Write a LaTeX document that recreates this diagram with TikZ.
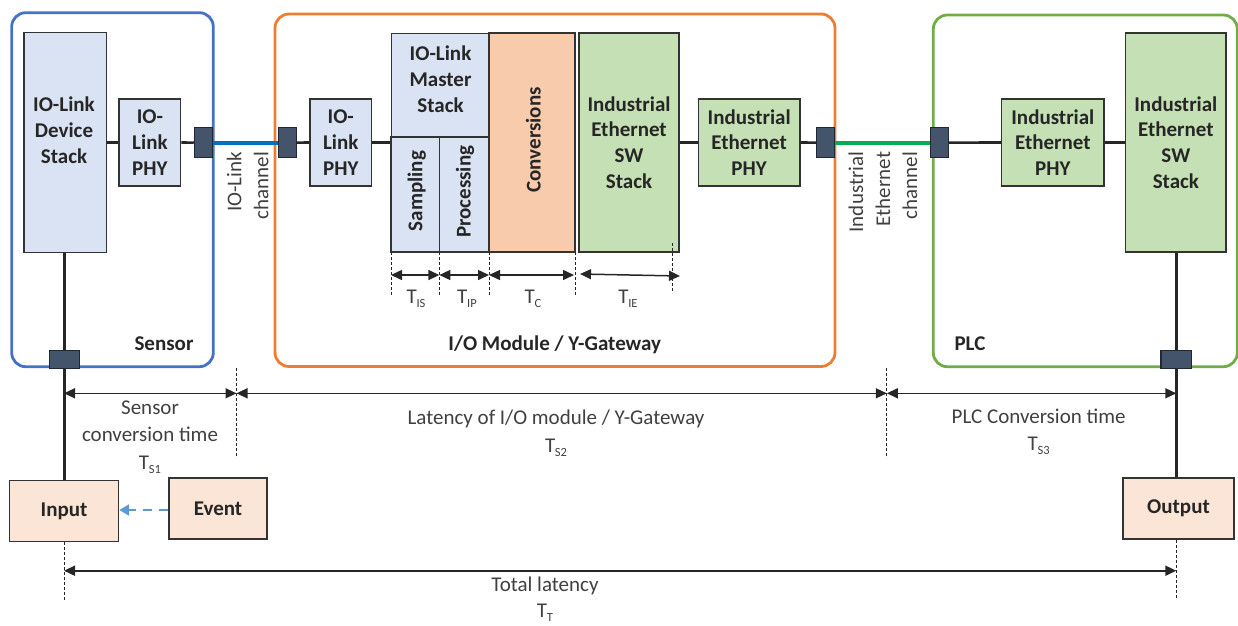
\documentclass[tikz,border=0pt]{standalone}
\usepackage{fontspec}
\setmainfont{Carlito}
\usetikzlibrary{arrows.meta}

\definecolor{stackblue}{HTML}{DAE3F3}
\definecolor{convpeach}{HTML}{F8CBAD}
\definecolor{ethgreen}{HTML}{C5E0B4}
\definecolor{iopeach}{HTML}{FBE5D6}
\definecolor{portgray}{HTML}{44546A}
\definecolor{portedge}{HTML}{1F2833}
\definecolor{sensorblue}{HTML}{4472C4}
\definecolor{moduleorange}{HTML}{ED7D31}
\definecolor{plcgreen}{HTML}{70AD47}
\definecolor{iolinkblue}{HTML}{0070C0}
\definecolor{ethline}{HTML}{00B050}
\definecolor{eventblue}{HTML}{5B9BD5}
\definecolor{ink}{HTML}{262626}
\definecolor{edge}{HTML}{333333}
\definecolor{dimink}{HTML}{404040}

\newcommand\blockfont{\fontsize{21}{25.8}\selectfont\bfseries}
\newcommand\plainfont{\fontsize{21}{27.5}\selectfont}
\newcommand\tsub[1]{T\kern-0.3pt\raisebox{-0.4ex}{\fontsize{12.5}{12.5}\selectfont #1}}

\begin{document}
\begin{tikzpicture}[x=1pt,y=-1pt,
  block/.style={draw=edge, line width=1.4pt, inner sep=0pt, font=\blockfont, text=ink, align=center},
  boxtext/.style={inner sep=0pt, font=\blockfont, text=ink, align=center},
  port/.style={draw=portedge, fill=portgray, line width=1.1pt, inner sep=0pt, minimum width=18pt, minimum height=29.5pt},
  bport/.style={port, minimum width=30.7pt, minimum height=18.3pt},
  enclosure/.style={rounded corners=14pt, line width=2.8pt, inner sep=0pt},
  wire/.style={line width=2.6pt, draw=ink},
  dimarrow/.style={line width=1.5pt, draw=ink, {Triangle[length=11pt,width=10pt]}-{Triangle[length=11pt,width=10pt]}},
  guide/.style={line width=0.8pt, draw=ink, dash pattern=on 3pt off 2pt},
  timelbl/.style={inner sep=0pt, font=\plainfont, text=dimink, align=center},
  sublbl/.style={inner sep=0pt, font=\fontsize{21}{25}\selectfont, text=dimink},
  chanlbl/.style={inner sep=0pt, font=\fontsize{21}{27}\selectfont, text=dimink, align=right, rotate=90, anchor=north east},
  arealbl/.style={inner sep=0pt, font=\blockfont, text=ink, anchor=base}
]
\useasboundingbox (0,0) rectangle (1238,625);

% enclosures
\node[enclosure, draw=sensorblue, minimum width=201.6pt, minimum height=354pt] (sensor) at (112.5,189.7) {};
\node[enclosure, draw=moduleorange, minimum width=560pt, minimum height=352.5pt] (module) at (555,190.25) {};
\node[enclosure, draw=plcgreen, minimum width=304pt, minimum height=351.7pt] (plc) at (1085.3,190.85) {};

\node[arealbl] (sensorlbl) at (164,350) {Sensor};
\node[arealbl] (modulelbl) at (554.7,350) {I/O Module / Y-Gateway};
\node[arealbl] (plclbl) at (970,350) {PLC};

% sensor blocks
\node[block, fill=stackblue, minimum width=82.7pt, minimum height=219.5pt] (devstack) at (65.3,142.5) {};
\node[boxtext] (devstacktxt) at (64,130.5) {IO-Link\\Device\\Stack};
\node[block, fill=stackblue, minimum width=61.7pt, minimum height=87pt] (phyS) at (149.9,142.5) {IO-\\Link\\PHY};

% module blocks
\node[block, fill=stackblue, minimum width=61.7pt, minimum height=87pt] (phyM) at (340.8,142.5) {IO-\\Link\\PHY};
\node[block, fill=stackblue, minimum width=97.5pt, minimum height=103.7pt] (master) at (440.25,85.15) {};
\node[boxtext] (mastertxt) at (440.5,79) {IO-Link\\Master\\Stack};
\node[block, fill=stackblue, minimum width=48.3pt, minimum height=115pt] (sampling) at (415.15,194.5) {};
\node[block, fill=stackblue, minimum width=49.7pt, minimum height=115pt] (processing) at (464.15,194.5) {};
\node[boxtext, rotate=90] (samplingtxt) at (416.7,191) {Sampling};
\node[boxtext, rotate=90] (processingtxt) at (465,191.7) {Processing};
\node[block, fill=convpeach, minimum width=86pt, minimum height=219pt] (conv) at (532,142.5) {};
\node[boxtext, rotate=90] (convtxt) at (533.3,140) {Conversions};
\node[block, fill=ethgreen, minimum width=100pt, minimum height=219pt] (swM) at (629,142.5) {Industrial\\Ethernet\\SW\\Stack};
\node[block, fill=ethgreen, minimum width=101.7pt, minimum height=87pt] (iephyM) at (749.15,142.5) {Industrial\\Ethernet\\PHY};

% PLC blocks
\node[block, fill=ethgreen, minimum width=102.3pt, minimum height=87pt] (iephyP) at (1052.85,142.5) {Industrial\\Ethernet\\PHY};
\node[block, fill=ethgreen, minimum width=100.3pt, minimum height=219pt] (swP) at (1175.85,142.5) {Industrial\\Ethernet\\SW\\Stack};

% input / event / output
\node[block, fill=iopeach, minimum width=109pt, minimum height=61pt] (input) at (64,511.2) {Input};
\node[block, fill=iopeach, minimum width=98pt, minimum height=61pt] (event) at (218,508.5) {Event};
\node[block, fill=iopeach, minimum width=111pt, minimum height=61pt] (output) at (1178.5,508.5) {Output};

% ports
\node[port] (portS) at (203.3,142.6) {};
\node[port] (portMl) at (287.2,142.6) {};
\node[port] (portMr) at (825.8,142.6) {};
\node[port] (portPl) at (939.3,142.6) {};
\node[bport] (portSb) at (64.5,359.2) {};
\node[bport] (portPb) at (1176.3,359.2) {};

% channels between devices
\draw[line width=4pt, draw=iolinkblue] (portS.east) -- (portMl.west);
\draw[line width=4pt, draw=ethline] (portMr.east) -- (portPl.west);
\node[chanlbl] (iolinkchan) at (226.7,151.7) {IO-Link\\channel};
\node[chanlbl] (iechan) at (848.3,151.7) {Industrial\\Ethernet\\channel};

% internal wiring
\draw[wire] (devstack.east |- phyS) -- (phyS.west);
\draw[wire] (phyS.east) -- (portS.west);
\draw[wire] (portMl.east) -- (phyM.west);
\draw[wire] (phyM.east) -- (sampling.west |- phyM);
\draw[wire] (swM.east |- iephyM) -- (iephyM.west);
\draw[wire] (iephyM.east) -- (portMr.west);
\draw[wire] (portPl.east) -- (iephyP.west);
\draw[wire] (iephyP.east) -- (swP.west |- iephyP);
\draw[wire] (portSb.north |- devstack.south) -- (portSb.north);
\draw[wire] (portSb.south) -- (portSb.south |- input.north);
\draw[wire] (portPb.north |- swP.south) -- (portPb.north);
\draw[wire] (portPb.south) -- (portPb.south |- output.north);
\draw[line width=2.6pt, draw=eventblue, dash pattern=on 9pt off 7pt, -{Triangle[length=10pt,width=11pt]}] (event.west |- 0,510) -- (input.east |- 0,510);

% timing inside the gateway
\coordinate (g1a) at (391,252); \coordinate (g1b) at (391,295);
\coordinate (g2a) at (439.3,252); \coordinate (g2b) at (439.3,295);
\coordinate (g3a) at (489,252); \coordinate (g3b) at (489,295);
\coordinate (g4a) at (575,252); \coordinate (g4b) at (575,295);
\coordinate (g5a) at (672,243); \coordinate (g5b) at (672,293);
\foreach \g in {1,...,5} { \draw[guide] (g\g a) -- (g\g b); }
\draw[dimarrow] (391,275) -- (439.3,275);
\draw[dimarrow] (439.3,275) -- (489,275);
\draw[dimarrow] (489,275) -- (574,275);
\draw[dimarrow] (580,274) -- (680,276);
\node[sublbl] (tis) at (416,299) {\tsub{IS}};
\node[sublbl] (tip) at (467,299) {\tsub{IP}};
\node[sublbl] (tc) at (533,299) {\tsub{C}};
\node[sublbl] (tie) at (628,299) {\tsub{IE}};

% overall timing
\coordinate (sA) at (236.5,368); \coordinate (sB) at (236.5,458);
\coordinate (mA) at (886.8,368); \coordinate (mB) at (886.8,458);
\coordinate (inEnd) at (64,602);
\coordinate (outEnd) at (1176.3,599);
\draw[guide] (sA) -- (sB);
\draw[guide] (mA) -- (mB);
\draw[guide] (input.south) -- (inEnd);
\draw[guide] (output.south -| outEnd) -- (outEnd);
\draw[dimarrow] (64,393.3) -- (236.5,393.3);
\draw[dimarrow] (236.5,393.3) -- (886.8,393.3);
\draw[dimarrow] (886.8,393.3) -- (1176.3,393.3);
\draw[dimarrow, line width=1.7pt] (64,570.7) -- (1176.3,570.7);

\node[timelbl] (ts1) at (150,437) {Sensor\\conversion time\\\tsub{S1}};
\node[timelbl] (ts2) at (556,433) {Latency of I/O module / Y-Gateway\\\tsub{S2}};
\node[timelbl] (ts3) at (1038.6,432) {PLC Conversion time\\\tsub{S3}};
\node[timelbl, font=\fontsize{21}{26}\selectfont] (tt) at (545,599.5) {Total latency\\\tsub{T}};
\end{tikzpicture}
\end{document}
